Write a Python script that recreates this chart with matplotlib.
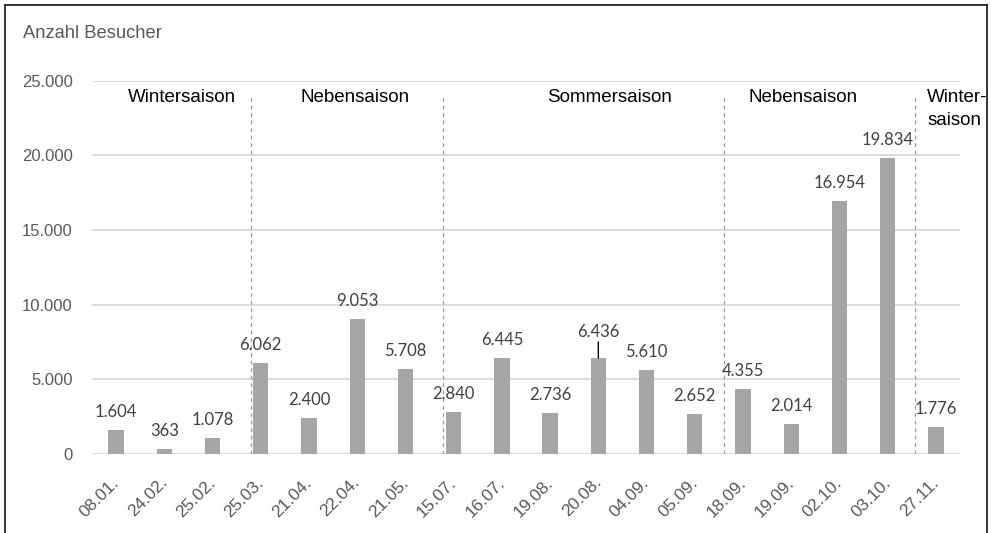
import matplotlib.pyplot as plt
from matplotlib.lines import Line2D
from matplotlib.ticker import FuncFormatter
from matplotlib.transforms import ScaledTranslation

# Besucherzahlen je Termin
termine = ["08.01.", "24.02.", "25.02.", "25.03.", "21.04.", "22.04.", "21.05.",
           "15.07.", "16.07.", "19.08.", "20.08.", "04.09.", "05.09.", "18.09.",
           "19.09.", "02.10.", "03.10.", "27.11."]
besucher = [1604, 363, 1078, 6062, 2400, 9053, 5708, 2840, 6445, 2736, 6436,
            5610, 2652, 4355, 2014, 16954, 19834, 1776]

saisons = ["Wintersaison", "Nebensaison", "Sommersaison", "Nebensaison", "Winter-\nsaison"]
saison_x = [1.36, 4.95, 10.24, 14.25, 16.82]
grenzen = [2.80, 6.78, 12.60, 16.57]

def de_zahl(v, pos=None):
    return f"{int(v):,}".replace(",", ".")

grau = "#595959"
fig = plt.figure(figsize=(9.91, 5.33), dpi=100)
ax = fig.add_axes([92 / 991, 1 - 454 / 533, 868 / 991, 373.3 / 533])

x = range(len(termine))
ax.bar(x, besucher, width=0.32, color="#a5a5a5", zorder=3)

ax.set_xlim(-0.5, len(termine) - 0.5)
ax.set_ylim(0, 25000)
ax.set_yticks(range(0, 25001, 5000))
ax.yaxis.set_major_formatter(FuncFormatter(de_zahl))
ax.grid(axis="y", color="#d9d9d9", linewidth=1.3, zorder=0)
ax.set_axisbelow(True)
for s in ax.spines.values():
    s.set_visible(False)

ax.set_xticks(list(x))
ax.set_xticklabels(termine, rotation=45, ha="right", va="top", rotation_mode="anchor",
                   fontfamily="Liberation Sans", fontsize=12.5, color=grau)
ax.tick_params(axis="x", length=0, pad=15)
ax.tick_params(axis="y", length=0, pad=14, labelsize=12, labelcolor=grau)
for lab in ax.get_yticklabels():
    lab.set_fontfamily("Liberation Sans")
# Datumsbeschriftung etwas nach links rücken
versatz = ScaledTranslation(-5 / 100, 0, fig.dpi_scale_trans)
for lab in ax.get_xticklabels():
    lab.set_transform(lab.get_transform() + versatz)

# Werte über den Balken
for i, v in enumerate(besucher):
    dy = 13
    if termine[i] == "20.08.":
        dy = 18.5
        ax.annotate("", xy=(i, v), xytext=(0, 11.5), textcoords="offset points",
                    arrowprops=dict(arrowstyle="-", color="black", lw=1, shrinkA=0, shrinkB=0))
    ax.annotate(de_zahl(v), xy=(i, v), xytext=(0, dy), textcoords="offset points",
                ha="center", va="center", fontfamily="Lato", fontsize=12, color="#404040")

# Saisongrenzen und Beschriftungen
for g in grenzen:
    ax.plot([g, g], [0, 23900], color="#9a9a9a", linewidth=0.9, linestyle=(0, (3, 3)), zorder=2)
for name, sx in zip(saisons, saison_x):
    if "\n" in name:
        ax.text(sx, 24450, name, ha="left", va="top", fontfamily="Liberation Sans",
                fontsize=13.5, color="black", linespacing=1.5)
    else:
        ax.text(sx, 23850, name, ha="center", va="center", fontfamily="Liberation Sans",
                fontsize=13.5, color="black")

fig.text(23 / 991, 1 - 33 / 533, "Anzahl Besucher", ha="left", va="center",
         fontfamily="Liberation Sans", fontsize=13.2, color=grau)

# Rahmen links, oben und rechts
for xs, ys in [([5, 5], [0, 528]), ([5, 987], [528, 528]), ([987, 987], [528, 0])]:
    fig.add_artist(Line2D([v / 991 for v in xs], [v / 533 for v in ys],
                          color="black", linewidth=1.1))

fig.savefig("out.png", dpi=100)
